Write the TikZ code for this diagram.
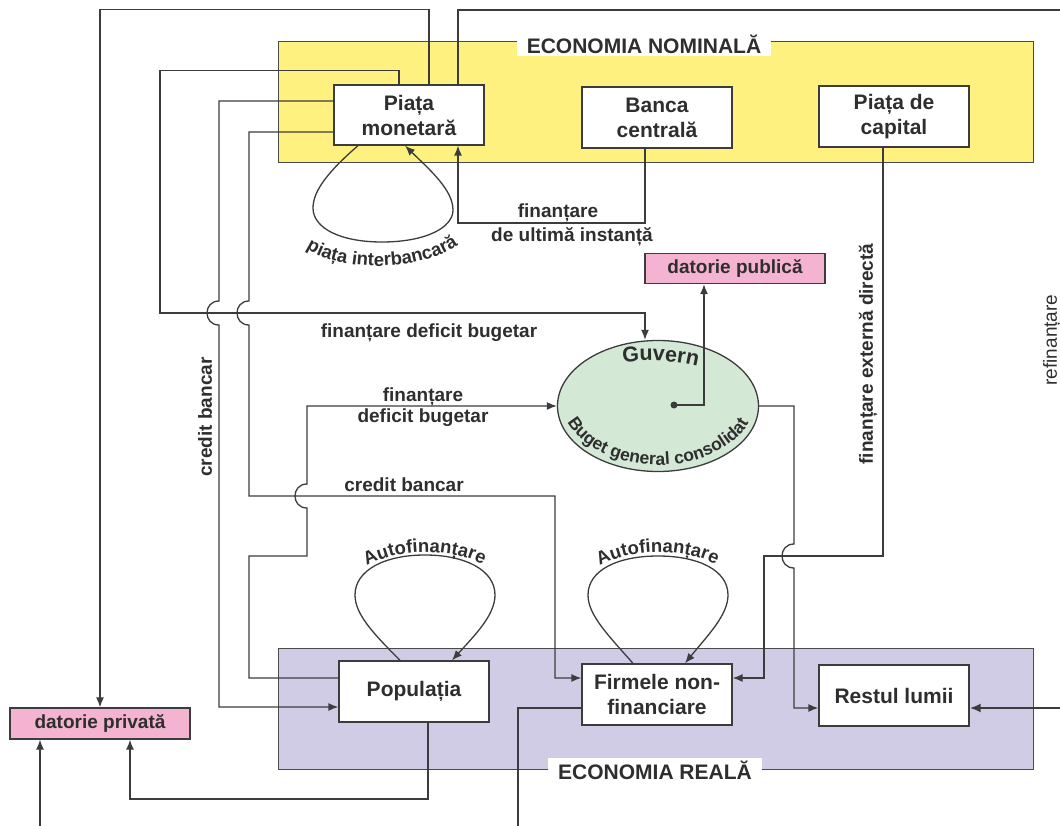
\documentclass[tikz,border=0pt]{standalone}
\usepackage{fontspec}
\setmainfont{Liberation Sans}
\usetikzlibrary{arrows.meta,decorations.text,shapes.geometric}

\definecolor{yellowf}{HTML}{FFF17F}
\definecolor{bluef}{HTML}{D1CCE6}
\definecolor{pinkf}{HTML}{F4B3D1}
\definecolor{greenf}{HTML}{D4E8D6}
\definecolor{linec}{HTML}{3C3C3C}
\definecolor{framec}{HTML}{4A4A4A}
\definecolor{textc}{HTML}{2E2E2E}

\newcommand\fntbox{\fontsize{21}{25}\selectfont\bfseries}
\newcommand\fntlbl{\fontsize{19}{21}\selectfont\bfseries}
\newcommand\fntreg{\fontsize{21}{24}\selectfont\bfseries}
\newcommand\fntloop{\fontsize{18.5}{21}\selectfont\bfseries}
\newcommand\fntbug{\fontsize{17.5}{20}\selectfont\bfseries}
\newcommand\fntgov{\fontsize{21.5}{24}\selectfont\bfseries}

\begin{document}
\begin{tikzpicture}[x=1pt,y=-1pt,
  box/.style={draw=linec, fill=white, line width=1.3pt, minimum width=150pt,
    minimum height=61pt, align=center, font=\fntbox, text=textc, inner sep=0pt},
  debt/.style={draw=linec, fill=pinkf, line width=1.3pt, minimum width=180pt,
    minimum height=31pt, font=\fntlbl, text=textc, inner sep=0pt},
  lbl/.style={font=\fntlbl, text=textc, inner sep=0pt, align=center},
  reglbl/.style={fill=white, font=\fntreg, text=textc, inner xsep=10pt, inner ysep=3pt},
  conn/.style={draw=linec, line width=1.3pt},
  arr/.style={conn, -{Latex[length=10pt,width=8pt]}},
  thk/.style={draw=linec, line width=2.4pt},
  thkarr/.style={thk, -{Latex[length=11pt,width=9pt]}},
  arctext/.style={decorate, decoration={text along path, text align=center, text={#1}}}
]
\useasboundingbox (0,0) rectangle (1060,826);

% the two sectors of the economy
\path[fill=yellowf, draw=framec, line width=1pt] (278,42) rectangle (1033,163);
\path[fill=bluef, draw=framec, line width=1pt] (278,648) rectangle (1033,769);
\node[reglbl] (nomlbl) at (644,44) {ECONOMIA NOMINALĂ};
\node[reglbl] (reallbl) at (655,770) {ECONOMIA REALĂ};

% institutions and sectors
\node[box, minimum height=60pt] (pm) at (409,115) {Piața\\monetară};
\node[box] (bc) at (657,117.5) {Banca\\centrală};
\node[box] (pc) at (894,116.5) {Piața de\\capital};
\node[box] (pop) at (414,691.5) {Populația};
\node[box] (firm) at (657,694.5) {Firmele non-\\financiare};
\node[box] (rest) at (894,695.5) {Restul lumii};
\node[debt] (dpriv) at (100,723.5) {datorie privată};
\node[debt, minimum height=30pt] (dpub) at (735,268.5) {datorie publică};
\node[ellipse, draw=linec, line width=1.3pt, fill=greenf, minimum width=201pt,
  minimum height=131pt, inner sep=0pt] (gov) at (658,406) {};
\node[circle, fill=linec, inner sep=0pt, minimum size=7pt] (gdot) at (674,405) {};

% loose ends at the border of the page
\coordinate (edgeT) at (1062,10);
\coordinate (edgeR) at (1062,708);
\coordinate (edgeB1) at (518,830);
\coordinate (edgeB2) at (40,830);

% money market links
\draw[arr] ([xshift=20pt]pm.north) -- ++(0,-75) -| (dpriv.north);
\draw[thk] ([xshift=49pt]pm.north) |- (edgeT);
\draw[arr] ([xshift=-10pt]pm.north) -- ++(0,-14) -| (160,313) -| ([xshift=-13pt]gov.north);
\draw[arr] ([yshift=14pt]pm.west) -| (219,301)
  .. controls (203,301) and (203,325) .. (219,325) |- ([yshift=-15.5pt]pop.west);
\draw[arr] ([yshift=-17pt]pm.west) -| (249,301)
  .. controls (233,301) and (233,325) .. (249,325) |- (555,496) |- ([yshift=16.5pt]firm.west);

% households and government
\draw[arr] ([yshift=13.5pt]pop.west) -| (249,556) -| (307,508)
  .. controls (291,508) and (291,484) .. (307,484) |- (gov.west);
\draw[arr] (gov.east) -| (794,544)
  .. controls (778,544) and (778,568) .. (794,568) |- ([yshift=-12.5pt]rest.west);
\draw[arr] ([xshift=-11pt]pc.south) |- (764,556) |- ([yshift=16.5pt]firm.east);
\draw[arr] ([xshift=-12pt]bc.south) |- (458,223) -- ([xshift=49pt]pm.south);
\draw[arr] (gdot.center) -| ([xshift=-31pt]dpub.south);
\draw[thkarr] (edgeR) -- ([yshift=-12.5pt]rest.east);
\draw[conn] ([yshift=-13.5pt]firm.west) -| (edgeB1);
\draw[arr] ([xshift=14pt]pop.south) |- (130,799) -- ([xshift=30pt]dpriv.south);
\draw[arr] (edgeB2) -- ([xshift=-60pt]dpriv.south);

% self-loops
\draw[arr] ([xshift=-51pt]pm.south) .. controls (330,170) and (313,190) .. (313,208)
  .. controls (313,228) and (340,242) .. (382,242)
  .. controls (425,242) and (453,228) .. (453,210)
  .. controls (453,190) and (430,170) .. ([xshift=-4pt]pm.south);
\draw[arr] ([xshift=-14pt]pop.north) .. controls (375,635) and (355,615) .. (355,595)
  .. controls (355,570) and (385,555) .. (425,555)
  .. controls (465,555) and (495,570) .. (495,595)
  .. controls (495,615) and (475,635) .. ([xshift=38pt]pop.north);
\draw[arr] ([xshift=-24pt]firm.north) .. controls (608,635) and (588,615) .. (588,595)
  .. controls (588,570) and (618,556) .. (658,556)
  .. controls (698,556) and (728,570) .. (728,595)
  .. controls (728,615) and (708,635) .. ([xshift=28pt]firm.north);

% curved captions
\path[arctext={|\fntloop\color{textc}|piața interbancară}]
  (300,244) .. controls (335,274) and (425,274) .. (464,240);
\path[arctext={|\fntloop\color{textc}|Autofinanțare}]
  (358,572) .. controls (392,546) and (458,546) .. (492,570);
\path[arctext={|\fntloop\color{textc}|Autofinanțare}]
  (591,572) .. controls (625,546) and (691,546) .. (725,570);
\path[arctext={|\fntgov\color{textc}|Guvern}]
  (610,364) .. controls (640,359) and (680,359) .. (710,370);
\path[arctext={|\fntbug\color{textc}|Buget general consolidat}]
  (566.5,421) .. controls (580,447) and (617,465) .. (658,465)
  .. controls (699,465) and (736,447) .. (749.5,421);

% straight captions
\node[lbl] (l1) at (429,333) {finanțare deficit bugetar};
\node[lbl] (l2) at (423,407.5) {finanțare\\deficit bugetar};
\node[lbl] (l3) at (404,485) {credit bancar};
\node[lbl, rotate=90] (l4) at (205,417) {credit bancar};
\node[lbl] (l5) at (558,213) {finanțare};
\node[lbl] (l6) at (572,237) {de ultimă instanță};
\node[lbl, rotate=90] (l7) at (868,354) {finanțare externă directă};
\node[font=\fontsize{19}{19}\selectfont, text=textc, rotate=90, inner sep=0pt] (l8)
  at (1052,340) {refinanțare};
\end{tikzpicture}
\end{document}
